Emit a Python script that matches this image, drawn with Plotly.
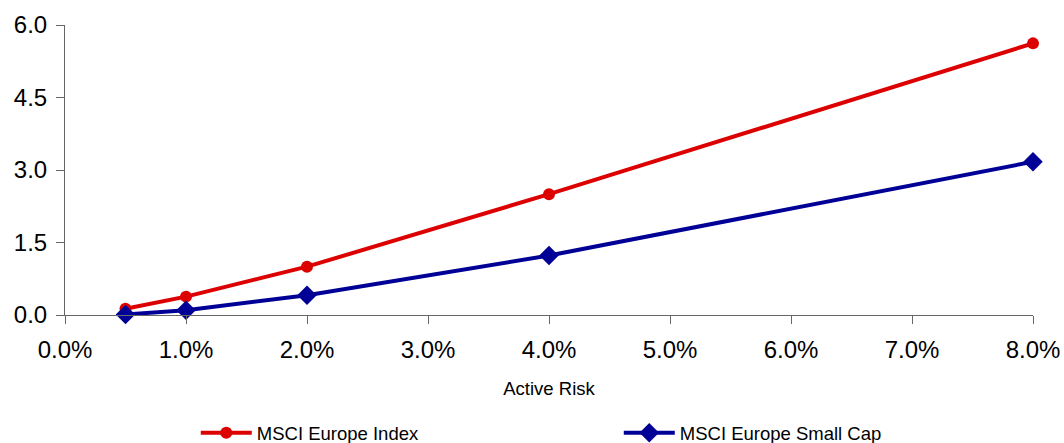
import plotly.graph_objects as go

# Active risk levels (as fractions) and the two index series
active_risk = [0.005, 0.01, 0.02, 0.04, 0.08]
msci_europe_index = [0.13, 0.38, 1.00, 2.50, 5.62]
msci_europe_small_cap = [0.01, 0.10, 0.41, 1.23, 3.17]

x_ticks = [0.0, 0.01, 0.02, 0.03, 0.04, 0.05, 0.06, 0.07, 0.08]
y_ticks = [0.0, 1.5, 3.0, 4.5, 6.0]

RED = "#dd0000"
NAVY = "#000096"
FONT = "Liberation Sans, Arial, sans-serif"

fig = go.Figure()
fig.add_trace(go.Scatter(
    x=active_risk, y=msci_europe_index, name="MSCI Europe Index",
    mode="lines+markers",
    line=dict(color=RED, width=4),
    marker=dict(symbol="circle", size=12, color=RED),
    cliponaxis=False,
))
fig.add_trace(go.Scatter(
    x=active_risk, y=msci_europe_small_cap, name="MSCI Europe Small Cap",
    mode="lines+markers",
    line=dict(color=NAVY, width=4),
    marker=dict(symbol="diamond", size=15, color=NAVY),
    cliponaxis=False,
))

fig.update_layout(
    width=1064, height=443,
    margin=dict(l=65, r=31, t=25, b=128, autoexpand=False),
    paper_bgcolor="white", plot_bgcolor="white",
    font=dict(family=FONT, color="black"),
    showlegend=True,
    legend=dict(
        orientation="h",
        xref="container", yref="container",
        x=0.184, y=0.022, xanchor="left", yanchor="middle",
        font=dict(size=18.5, family=FONT),
        entrywidth=357, entrywidthmode="pixels",
        itemwidth=51,
        bgcolor="rgba(0,0,0,0)",
    ),
    xaxis=dict(
        range=[0, 0.08], tickvals=x_ticks, tickformat=".1%",
        showgrid=False, zeroline=False, automargin=False,
        showline=True, linecolor="#666666", linewidth=1,
        ticks="outside", ticklen=8, tickcolor="#666666",
        ticklabelstandoff=5,
        tickfont=dict(size=24, family=FONT),
        title=dict(text="Active Risk", font=dict(size=18.5, family=FONT), standoff=20),
    ),
    yaxis=dict(
        range=[0, 6], tickvals=y_ticks, tickformat=".1f",
        showgrid=False, zeroline=False, automargin=False,
        showline=True, linecolor="#666666", linewidth=1,
        ticks="outside", ticklen=8, tickcolor="#666666",
        ticklabelstandoff=4,
        tickfont=dict(size=24, family=FONT),
    ),
)

fig.write_html("out.html")
